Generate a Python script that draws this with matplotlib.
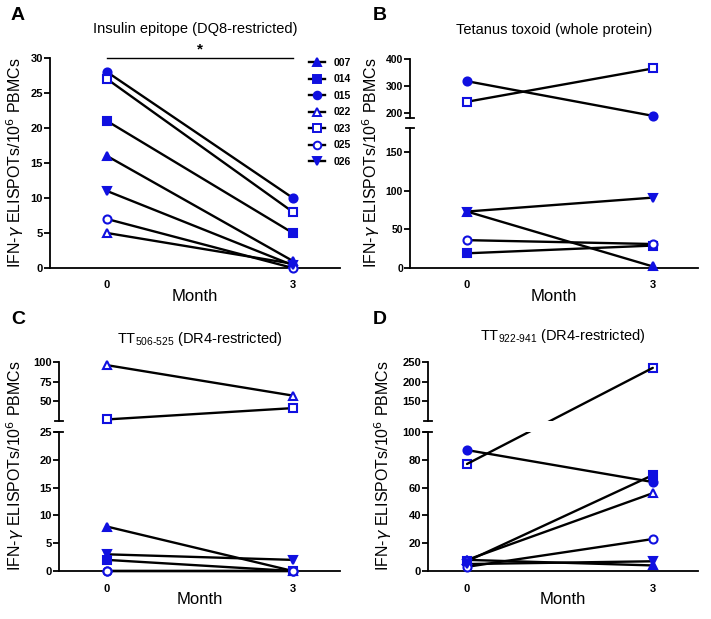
import matplotlib
matplotlib.use("Agg")
import matplotlib.pyplot as plt
from matplotlib.lines import Line2D
from matplotlib.patches import ConnectionPatch, Rectangle

plt.rcParams['font.family'] = ['Liberation Sans', 'DejaVu Sans']

W, H = 711, 619
BLUE = '#1010e0'

# marker style per subject: (marker, filled)
subject_ids = ['007', '014', '015', '022', '023', '025', '026']
subject_style = {
    '007': ('^', True),
    '014': ('s', True),
    '015': ('o', True),
    '022': ('^', False),
    '023': ('s', False),
    '025': ('o', False),
    '026': ('v', True),
}
months = [0, 3]

# A - insulin epitope
a_ids = ['007', '014', '015', '022', '023', '025', '026']
a_m0 = [16, 21, 28, 5, 27, 7, 11]
a_m3 = [1, 5, 10, 0.6, 8, 0, 0.4]

# B - tetanus toxoid whole protein
b_ids = ['007', '014', '015', '023', '025', '026']
b_m0 = [73, 19, 318, 242, 36, 73]
b_m3 = [2, 29, 190, 365, 31, 91]

# C - TT 506-525
c_ids = ['007', '014', '015', '022', '023', '025', '026']
c_m0 = [8, 2, 0, 96, 26.5, 0, 3]
c_m3 = [0, 0, 0, 57, 41, 0, 2]

# D - TT 922-941
d_ids = ['007', '014', '015', '022', '023', '025', '026']
d_m0 = [8, 7, 87, 8, 77, 3, 5]
d_m3 = [4, 69, 64, 56, 235, 23, 7]

ylabel = 'IFN-$\\gamma$ ELISPOTs/10$^6$ PBMCs'

fig = plt.figure(figsize=(W / 100, H / 100), dpi=100)


def px_axes(left, top, right, bottom):
    return fig.add_axes([left / W, 1 - bottom / H, (right - left) / W, (bottom - top) / H])


def style_axis(ax, xlim, ylim, yticks, show_x=True, tsize=8):
    ax.set_xlim(*xlim)
    ax.set_ylim(*ylim)
    ax.set_yticks(yticks)
    for s in ['top', 'right']:
        ax.spines[s].set_visible(False)
    ax.spines['left'].set_linewidth(1.3)
    ax.spines['bottom'].set_linewidth(1.3)
    ax.tick_params(axis='y', length=4, width=1.3, labelsize=tsize, pad=1)
    for lab in ax.get_yticklabels():
        lab.set_fontweight('bold')
    if show_x:
        ax.set_xticks(months)
        ax.set_xticklabels(['0', '3'], fontweight='bold', fontsize=8)
        ax.tick_params(axis='x', length=0, pad=9)
    else:
        ax.spines['bottom'].set_visible(False)
        ax.set_xticks([])
    ax.patch.set_alpha(0)


def draw_marker(ax, x, y, sid, size=5.8):
    m, filled = subject_style[sid]
    ax.plot([x], [y], marker=m, ms=size, mec=BLUE, mew=1.5,
            mfc=BLUE if filled else 'white', ls='none', clip_on=False, zorder=5)


def plot_single(ax, ids, m0, m3):
    for sid, v0, v3 in zip(ids, m0, m3):
        ax.plot(months, [v0, v3], color='black', lw=1.7, zorder=3, clip_on=False)
    for sid, v0, v3 in zip(ids, m0, m3):
        draw_marker(ax, 0, v0, sid)
        draw_marker(ax, 3, v3, sid)


def plot_broken(ax_top, ax_bot, split, ids, m0, m3):
    for sid, v0, v3 in zip(ids, m0, m3):
        a0 = ax_top if v0 > split else ax_bot
        a3 = ax_top if v3 > split else ax_bot
        if a0 is a3:
            a0.plot(months, [v0, v3], color='black', lw=1.7, zorder=3, clip_on=False)
        else:
            # line crossing the break is drawn straight in pixel space
            con = ConnectionPatch(xyA=(0, v0), coordsA=a0.transData,
                                  xyB=(3, v3), coordsB=a3.transData,
                                  color='black', lw=1.7, zorder=1)
            fig.add_artist(con)
    for sid, v0, v3 in zip(ids, m0, m3):
        draw_marker(ax_top if v0 > split else ax_bot, 0, v0, sid)
        draw_marker(ax_top if v3 > split else ax_bot, 3, v3, sid)


def gap_mask(ax_top, ax_bot):
    bt = ax_top.get_position()
    bb = ax_bot.get_position()
    fig.add_artist(Rectangle((bb.x0 + 0.003, bb.y1), bb.width, bt.y0 - bb.y1,
                             transform=fig.transFigure, facecolor='white',
                             edgecolor='none', zorder=2))


# ---- Panel A ----
axA = px_axes(50, 58, 340, 268)
style_axis(axA, (-0.92, 3.76), (0, 30), [0, 5, 10, 15, 20, 25, 30])
plot_single(axA, a_ids, a_m0, a_m3)
axA.plot([0, 3], [30, 30], color='black', lw=1.0, clip_on=False)
axA.text(1.5, 30.2, '*', ha='center', va='bottom', fontsize=11, fontweight='bold')
axA.set_xlabel('Month', fontsize=12, labelpad=-1)
handles = []
for sid in subject_ids:
    m, filled = subject_style[sid]
    handles.append(Line2D([], [], color='black', lw=1.7, marker=m, ms=5.5, mec=BLUE, mew=1.4,
                          mfc=BLUE if filled else 'white'))
leg = axA.legend(handles, subject_ids, loc='upper left', bbox_to_anchor=(0.86, 1.045),
                 frameon=False, handlelength=1.6, handletextpad=0.8, labelspacing=0.62,
                 prop={'size': 7.5, 'weight': 'bold'})
axA.set_title('Insulin epitope (DQ8-restricted)', fontsize=10.5, pad=18)

# ---- Panel B ----
axBt = px_axes(410, 59, 698, 118)
axBb = px_axes(410, 128, 698, 268)
style_axis(axBt, (-0.92, 3.73), (182, 400), [200, 300, 400], show_x=False, tsize=7.5)
style_axis(axBb, (-0.92, 3.73), (0, 181), [0, 50, 100, 150], tsize=7.5)
plot_broken(axBt, axBb, 181, b_ids, b_m0, b_m3)
axBb.set_xlabel('Month', fontsize=12, labelpad=-1)
axBt.set_title('Tetanus toxoid (whole protein)', fontsize=10.5, pad=18)

# ---- Panel C ----
axCt = px_axes(59, 362, 340, 421)
axCb = px_axes(59, 432, 340, 571)
style_axis(axCt, (-0.77, 3.76), (24.5, 100), [50, 75, 100], show_x=False)
style_axis(axCb, (-0.77, 3.76), (0, 25), [0, 5, 10, 15, 20, 25])
plot_broken(axCt, axCb, 25, c_ids, c_m0, c_m3)
axCb.set_xlabel('Month', fontsize=12, labelpad=-1)
axCt.set_title('TT$_{\\mathregular{506\\text{-}525}}$ (DR4-restricted)', fontsize=10.5, pad=14)

# ---- Panel D ----
axDt = px_axes(428, 362, 698, 421)
axDb = px_axes(428, 432, 698, 571)
style_axis(axDt, (-0.63, 3.73), (99, 250), [150, 200, 250], show_x=False)
style_axis(axDb, (-0.63, 3.73), (0, 100), [0, 20, 40, 60, 80, 100])
plot_broken(axDt, axDb, 100, d_ids, d_m0, d_m3)
gap_mask(axDt, axDb)
axDb.set_xlabel('Month', fontsize=12, labelpad=-1)
axDt.set_title('TT$_{\\mathregular{922\\text{-}941}}$ (DR4-restricted)', fontsize=10.5, pad=16)

# break caps
for ax_t, ax_b in [(axBt, axBb), (axCt, axCb), (axDt, axDb)]:
    for ax, y in [(ax_t, 0), (ax_b, 1)]:
        pos = ax.get_position()
        yy = pos.y0 + y * pos.height
        fig.add_artist(Line2D([pos.x0 - 4 / W, pos.x0 + 4 / W], [yy, yy], color='black', lw=1.3,
                              transform=fig.transFigure))

# y labels
fig.text(15 / W, 1 - 163 / H, ylabel, rotation=90, fontsize=11.5, ha='center', va='center')
fig.text(371 / W, 1 - 163 / H, ylabel, rotation=90, fontsize=11.5, ha='center', va='center')
fig.text(15 / W, 1 - 466 / H, ylabel, rotation=90, fontsize=11.5, ha='center', va='center')
fig.text(383 / W, 1 - 466 / H, ylabel, rotation=90, fontsize=11.5, ha='center', va='center')

# panel letters
for x, y, t in [(18, 15, 'A'), (380, 15, 'B'), (18, 320, 'C'), (380, 320, 'D')]:
    fig.text(x / W, 1 - y / H, t, fontsize=14, fontweight='bold', ha='center', va='center')

fig.savefig('out.png', dpi=100)
